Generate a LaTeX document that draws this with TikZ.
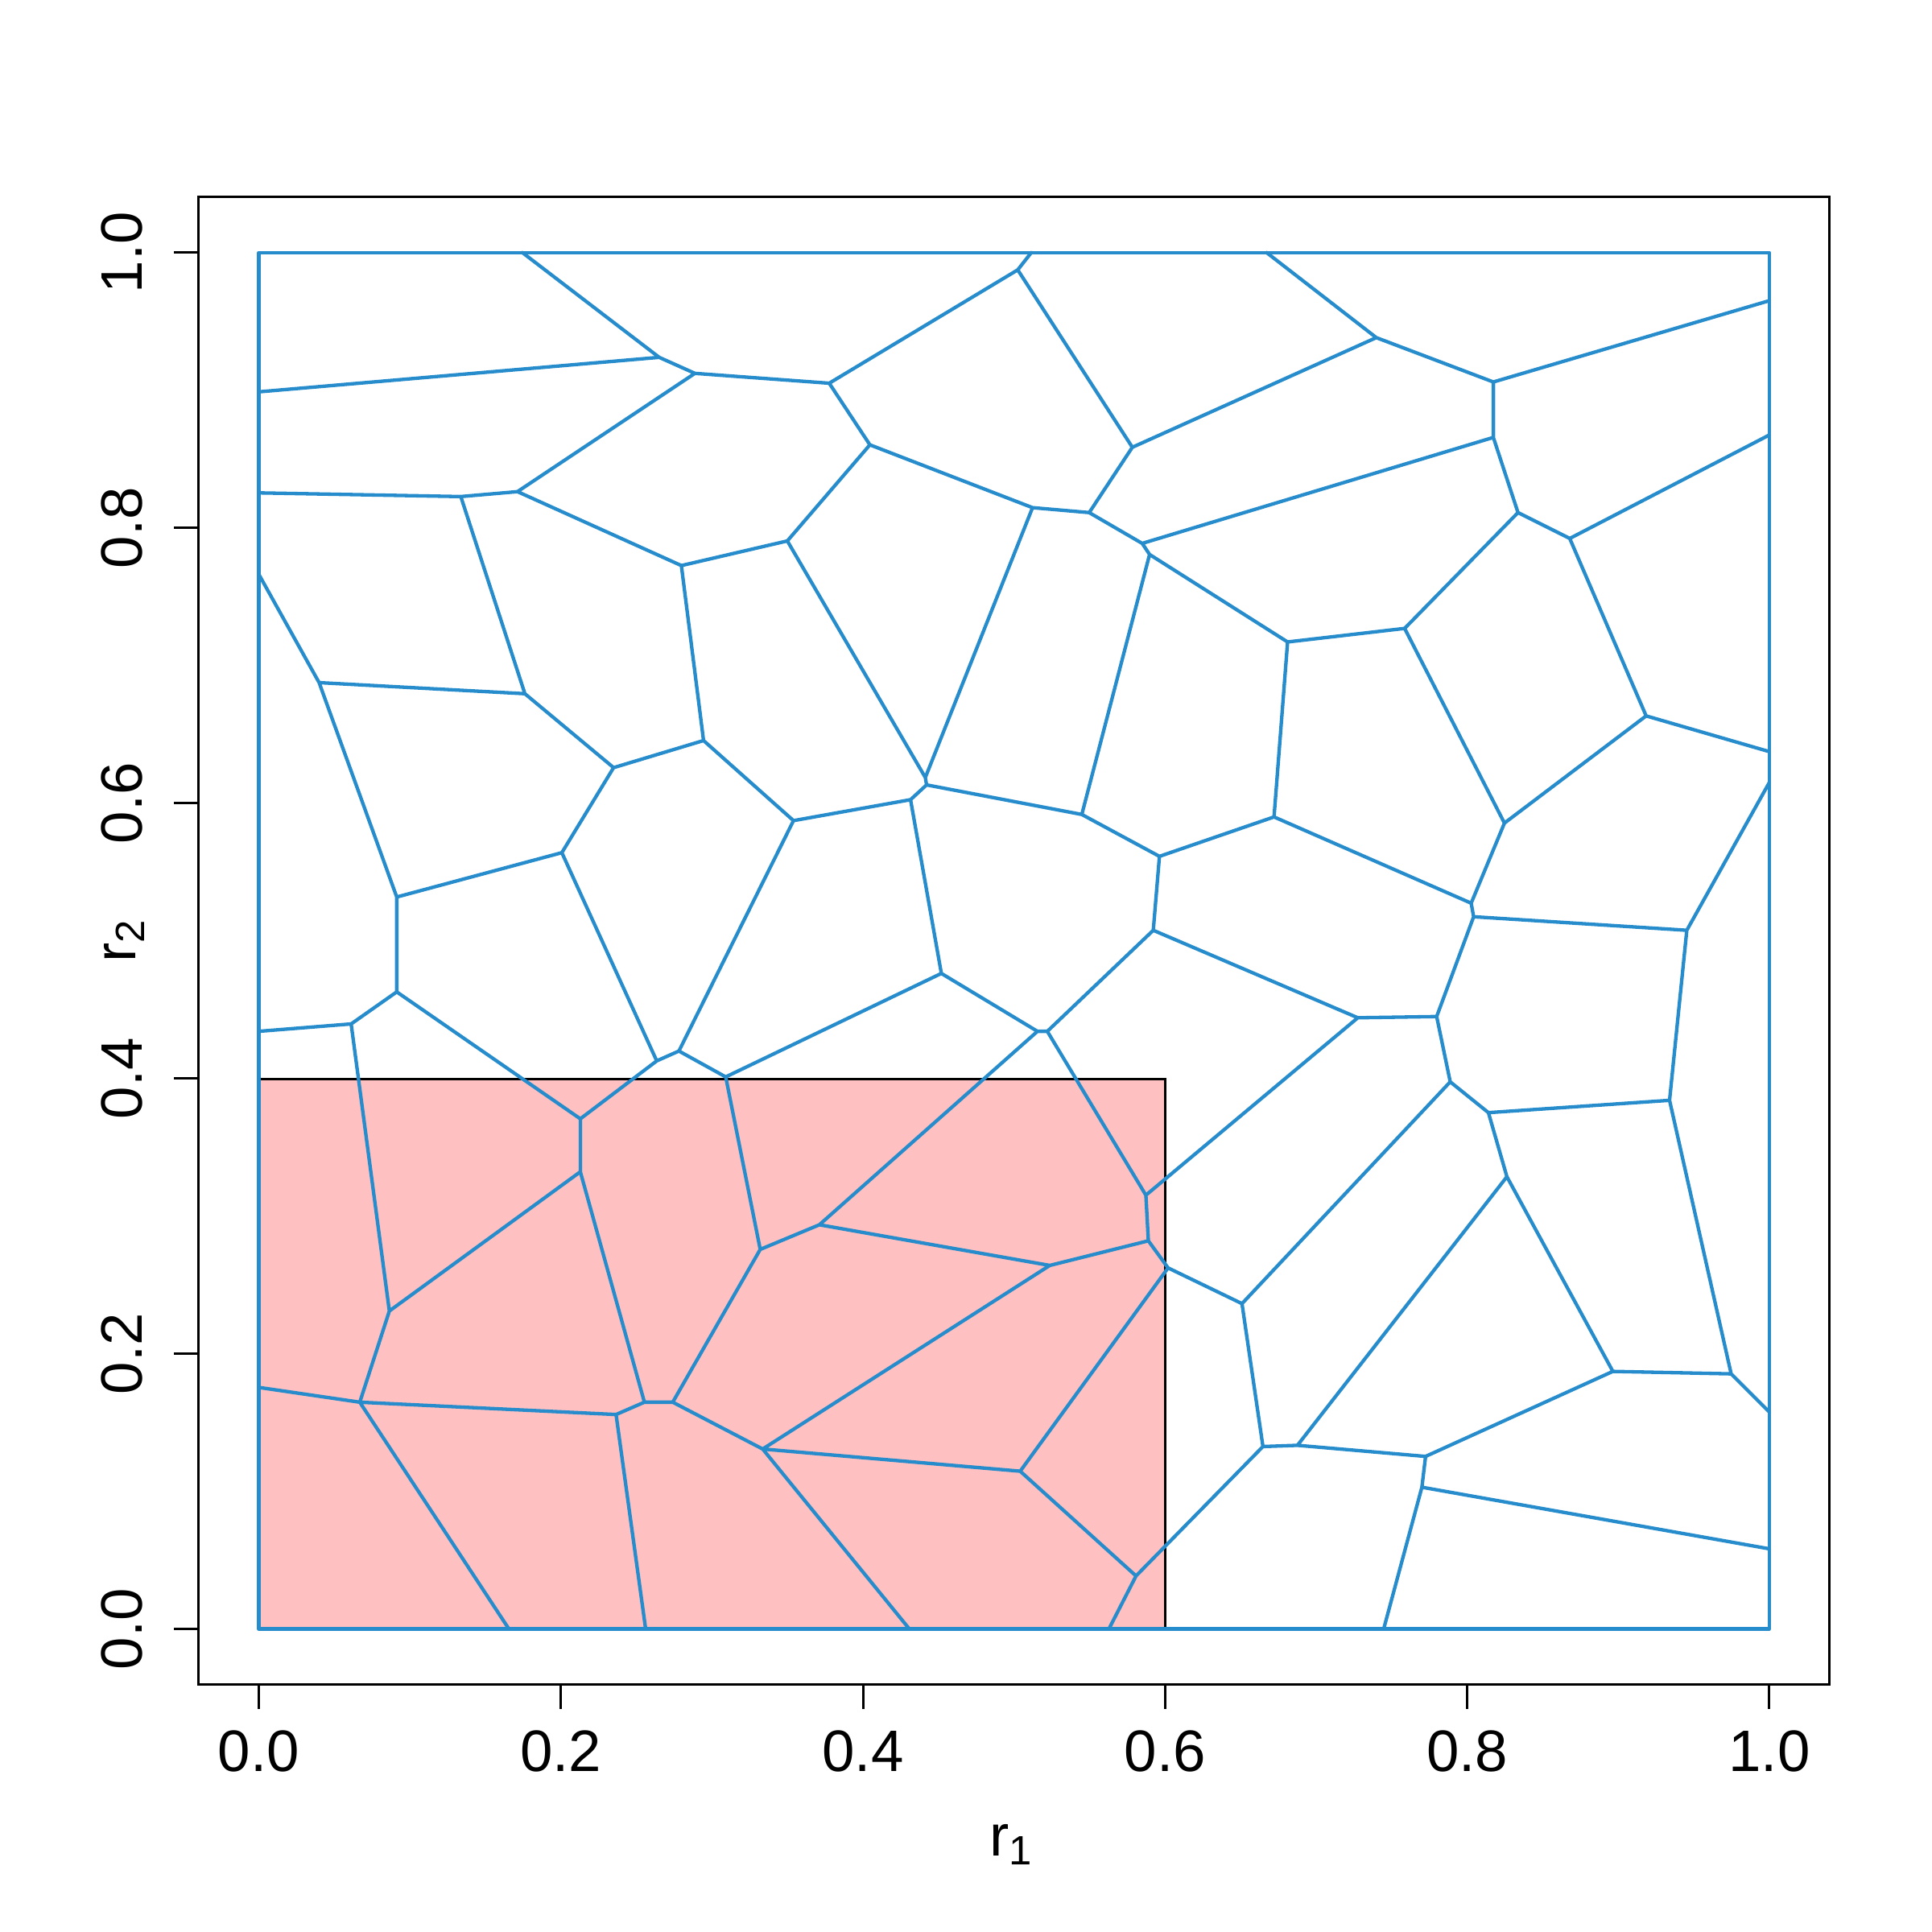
\documentclass[tikz,border=0pt]{standalone}
\usepackage{fontspec}
\setmainfont{Liberation Sans}
\definecolor{vblue}{RGB}{38,140,204}
\definecolor{rpink}{RGB}{254,192,192}
\begin{document}
\begin{tikzpicture}[x=0.01cm,y=-0.01cm,
  vor/.style={draw=vblue,line width=0.8pt,line join=round,line cap=round},
  framebox/.style={draw=black,line width=0.55pt},
  tick/.style={draw=black,line width=0.55pt},
  ticklab/.style={font=\fontsize{13.5}{16}\selectfont,inner sep=0pt}]
\useasboundingbox[fill=white] (0,0) rectangle (1568,1568);
% region
\fill[rpink] (210,876) rectangle (946,1322);
\draw[black,line width=0.55pt] (210,876) rectangle (946,1322);
% boundary points
\coordinate (c1) at (210,205); \coordinate (c2) at (1436,205);
\coordinate (c3) at (1436,1322); \coordinate (c4) at (210,1322);
\coordinate (t1) at (424,205); \coordinate (t2) at (837,205); \coordinate (t3) at (1028,205);
\coordinate (l1) at (210,318); \coordinate (l2) at (210,400); \coordinate (l3) at (210,466);
\coordinate (l4) at (210,837); \coordinate (l5) at (210,1126);
\coordinate (b1) at (413,1322); \coordinate (b2) at (524,1322); \coordinate (b3) at (738,1322);
\coordinate (b4) at (900,1322); \coordinate (b5) at (1123,1322);
\coordinate (r1) at (1436,244); \coordinate (r2) at (1436,353); \coordinate (r3) at (1436,610);
\coordinate (r4) at (1436,635); \coordinate (r5) at (1436,1146); \coordinate (r6) at (1436,1257);
% vertices
\coordinate (v2) at (535,290); \coordinate (v3) at (564,303); \coordinate (v4) at (673,311);
\coordinate (v5) at (420,399); \coordinate (v6) at (826,219); \coordinate (v7) at (919,363);
\coordinate (v8) at (706,361); \coordinate (v9) at (838,412); \coordinate (v10) at (884,416);
\coordinate (v11) at (1117,274); \coordinate (v12) at (1212,310); \coordinate (v13) at (1212,355);
\coordinate (v14) at (927,441); \coordinate (v14b) at (933,450); \coordinate (v15) at (1232,416);
\coordinate (v16) at (1274,437); \coordinate (v17) at (1140,510); \coordinate (v18) at (1045,521);
\coordinate (v19) at (878,661); \coordinate (v20) at (1034,663); \coordinate (v21) at (1221,668);
\coordinate (v22) at (1336,581); \coordinate (v23) at (1194,733); \coordinate (v24) at (1196,744);
\coordinate (v25) at (1369,755); \coordinate (v26) at (1166,825); \coordinate (v27) at (1102,826);
\coordinate (v28) at (936,755); \coordinate (v29) at (941,695); \coordinate (v30) at (752,637);
\coordinate (v31) at (751,631); \coordinate (v32) at (739,649); \coordinate (v33) at (644,666);
\coordinate (v34) at (764,790); \coordinate (v35) at (842,837); \coordinate (v36) at (850,837);
\coordinate (v37) at (374,403); \coordinate (v38) at (553,459); \coordinate (v39) at (639,439);
\coordinate (v40) at (259,554); \coordinate (v41) at (426,563); \coordinate (v42) at (498,623);
\coordinate (v43) at (571,601); \coordinate (v44) at (456,692); \coordinate (v45) at (322,728);
\coordinate (v46) at (322,805); \coordinate (v47) at (285,831); \coordinate (v48) at (471,908);
\coordinate (v49) at (533,861); \coordinate (v50) at (551,853); \coordinate (v51) at (589,874);
\coordinate (v52) at (471,951); \coordinate (v53) at (316,1064); \coordinate (v54) at (292,1138);
\coordinate (v55) at (500,1148); \coordinate (v56) at (523,1138); \coordinate (v57) at (546,1138);
\coordinate (v58) at (617,1014); \coordinate (v59) at (619,1176); \coordinate (v60) at (665,994);
\coordinate (v61) at (852,1027); \coordinate (v62) at (932,1007); \coordinate (v63) at (930,970);
\coordinate (v64) at (948,1029); \coordinate (v65) at (828,1194); \coordinate (v66) at (1008,1058);
\coordinate (v67) at (922,1279); \coordinate (v68) at (1025,1174); \coordinate (v69) at (1223,955);
\coordinate (v70) at (1053,1173); \coordinate (v71) at (1157,1182); \coordinate (v72) at (1309,1113);
\coordinate (v73) at (1405,1115); \coordinate (v74) at (1154,1207); \coordinate (v75) at (1177,878);
\coordinate (v76) at (1208,903); \coordinate (v77) at (1355,893);
% tessellation
\draw[vor] (c1) rectangle (c3);
\draw[vor]
 (t1)--(v2) (l1)--(v2) (v2)--(v3) (v3)--(v4) (v3)--(v5)
 (v4)--(v6) (v6)--(t2) (v4)--(v8) (v6)--(v7) (v8)--(v9) (v9)--(v10) (v10)--(v7)
 (v7)--(v11) (v11)--(t3) (v11)--(v12) (v12)--(r1) (v12)--(v13) (v13)--(v14)
 (v10)--(v14) (v14)--(v14b) (v14b)--(v19) (v14b)--(v18)
 (v13)--(v15) (v15)--(v16) (v16)--(r2) (v15)--(v17) (v17)--(v18) (v18)--(v20)
 (v17)--(v21) (v16)--(v22) (v22)--(v21) (v22)--(r3) (v21)--(v23) (v20)--(v23)
 (v23)--(v24) (v24)--(v25) (v25)--(r4) (v24)--(v26) (v26)--(v27) (v27)--(v28)
 (v28)--(v29) (v29)--(v20) (v29)--(v19) (v19)--(v30) (v30)--(v31) (v30)--(v32)
 (v9)--(v31) (v39)--(v31) (v32)--(v33) (v32)--(v34) (v34)--(v35) (v35)--(v36)
 (v36)--(v28) (v34)--(v51)
 (v5)--(v37) (l2)--(v37) (v37)--(v41) (v5)--(v38) (v38)--(v39) (v39)--(v8)
 (v38)--(v43) (v43)--(v42) (v43)--(v33) (v42)--(v41) (v42)--(v44) (v41)--(v40)
 (l3)--(v40) (v40)--(v45) (v45)--(v44) (v45)--(v46) (v44)--(v49) (v33)--(v50)
 (v49)--(v50) (v50)--(v51) (v49)--(v48) (v46)--(v48) (v46)--(v47) (v47)--(l4)
 (v47)--(v53) (v48)--(v52) (v52)--(v53) (v52)--(v56) (v53)--(v54) (v54)--(l5)
 (v54)--(b1) (v54)--(v55) (v55)--(b2) (v55)--(v56) (v56)--(v57) (v57)--(v58)
 (v57)--(v59) (v51)--(v58) (v58)--(v60) (v60)--(v35) (v60)--(v61) (v61)--(v59)
 (v61)--(v62) (v62)--(v63) (v63)--(v36) (v63)--(v27) (v62)--(v64) (v64)--(v65)
 (v64)--(v66) (v59)--(b3) (v59)--(v65) (v65)--(v67) (v67)--(b4) (v67)--(v68)
 (v66)--(v68) (v66)--(v75) (v68)--(v70) (v70)--(v69) (v70)--(v71) (v71)--(v72)
 (v71)--(v74) (v74)--(r6) (v74)--(b5) (v72)--(v69) (v72)--(v73) (v73)--(r5)
 (v73)--(v77) (v69)--(v76) (v76)--(v75) (v76)--(v77) (v77)--(v25) (v75)--(v26);
% frame and axes
\draw[framebox] (161,160) rectangle (1485,1367);
\foreach \d/\lab in {0/0.0,1/0.2,2/0.4,3/0.6,4/0.8,5/1.0}{
  \pgfmathsetmacro{\xx}{210+245.2*\d}
  \pgfmathsetmacro{\yy}{1322-223.4*\d}
  \draw[tick] (\xx,1367)--(\xx,1387);
  \node[ticklab] (xl\d) at (\xx,1421) {\lab};
  \draw[tick] (161,\yy)--(141,\yy);
  \node[ticklab,rotate=90] (yl\d) at (99,\yy) {\lab};
}
\node[ticklab] (xlab) at (821,1497) {r\textsubscript{1}};
\node[ticklab,rotate=90] (ylab) at (101,763) {r\textsubscript{2}};
\end{tikzpicture}
\end{document}
